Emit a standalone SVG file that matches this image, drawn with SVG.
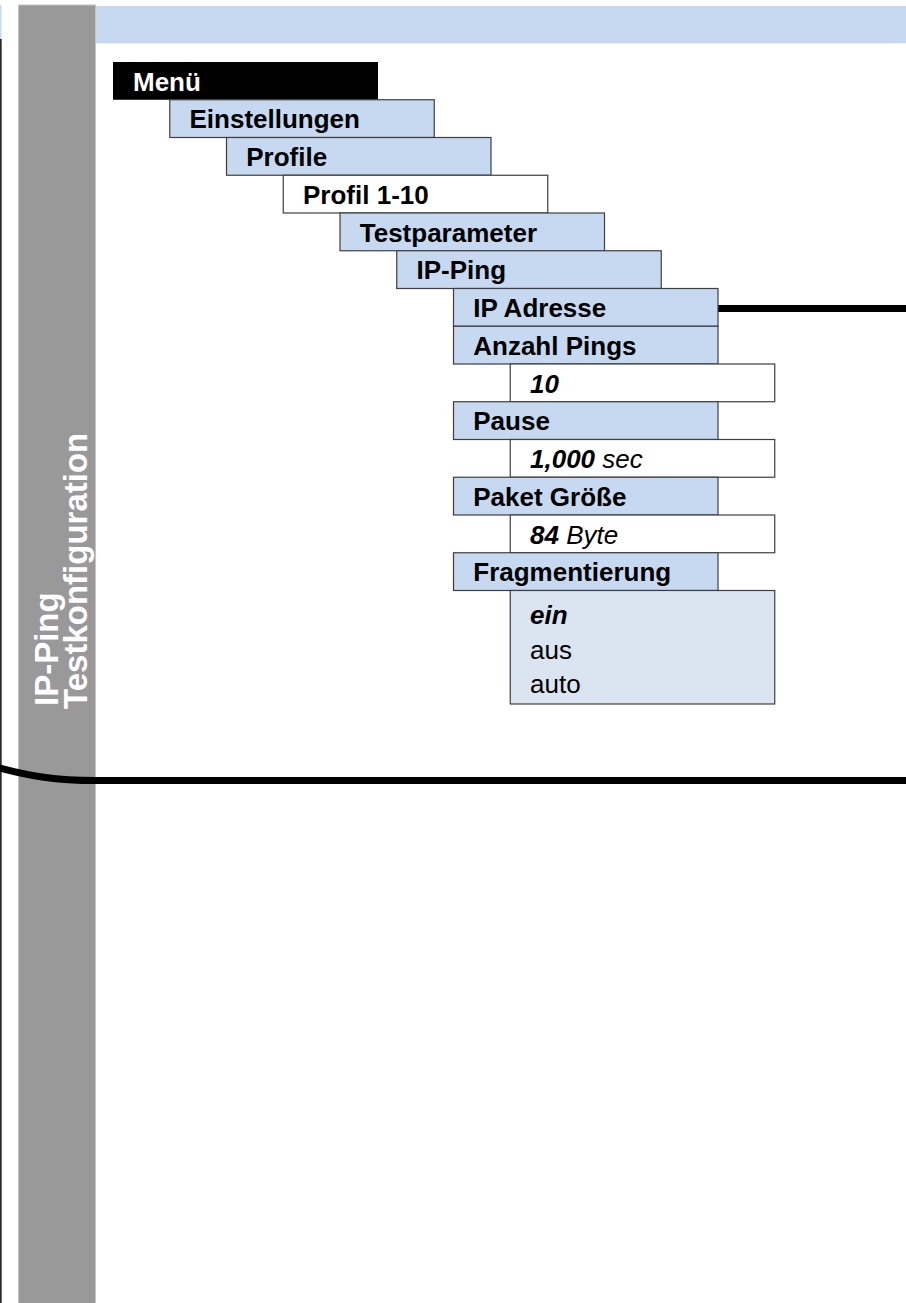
<svg xmlns="http://www.w3.org/2000/svg" width="906" height="1303" viewBox="0 0 906 1303">
  <style>
    .lbl { font-family: "Liberation Sans", Arial, sans-serif; font-size: 26px; font-weight: bold; fill: #000; }
    .val { font-family: "Liberation Sans", Arial, sans-serif; font-size: 26px; font-style: italic; fill: #000; }
    .opt { font-family: "Liberation Sans", Arial, sans-serif; font-size: 26px; fill: #000; }
    .b { font-weight: bold; }
    .menu { fill: #c6d9f1; stroke: #3f3f3f; stroke-width: 1.2; }
    .white { fill: #ffffff; stroke: #3f3f3f; stroke-width: 1.2; }
    .opts { fill: #dbe5f1; stroke: #3f3f3f; stroke-width: 1.2; }
    .side { font-family: "Liberation Sans", Arial, sans-serif; font-size: 33px; font-weight: bold; fill: #ffffff; }
    .conn { fill: none; stroke: #000; stroke-width: 7; }
  </style>

  <!-- page frame -->
  <rect x="0" y="5" width="1.5" height="34" fill="#c6d9f1"/>
  <rect x="0" y="39" width="1.7" height="1264" fill="#2b2b2b"/>
  <rect id="sidebar" x="18.5" y="5" width="77" height="1300" fill="#999999" stroke="#c4c4c4" stroke-width="1"/>
  <rect id="header" x="96" y="6" width="810" height="37.3" fill="#c6d9f1"/>

  <!-- side title -->
  <g id="title">
    <text class="side" transform="translate(58,706) rotate(-90)">IP-Ping</text>
    <text class="side" transform="translate(86.5,709) rotate(-90)">Testkonfiguration</text>
  </g>

  <!-- connectors -->
  <g id="connectors">
    <line class="conn" x1="718" y1="308.5" x2="906" y2="308.5"/>
    <path class="conn" d="M-2,767.5 C30,776 55,780.5 96,780.5 L906,780.5"/>
  </g>

  <!-- menu tree -->
  <g id="menu">
    <rect x="113" y="62" width="265" height="37.75" fill="#000"/>
    <text class="lbl" x="133" y="90.5" style="fill:#fff">Menü</text>
  </g>
  <g id="einstellungen">
    <rect class="menu" x="169.75" y="99.75" width="264.5" height="37.75"/>
    <text class="lbl" x="189.5" y="128.25">Einstellungen</text>
  </g>
  <g id="profile">
    <rect class="menu" x="226.5" y="137.5" width="264.5" height="37.75"/>
    <text class="lbl" x="246.25" y="166">Profile</text>
  </g>
  <g id="profil-1-10">
    <rect class="white" x="283.25" y="175.25" width="264.5" height="37.75"/>
    <text class="lbl" x="303" y="203.75">Profil 1-10</text>
  </g>
  <g id="testparameter">
    <rect class="menu" x="340" y="213" width="264.5" height="37.75"/>
    <text class="lbl" x="359.75" y="241.5">Testparameter</text>
  </g>
  <g id="ip-ping">
    <rect class="menu" x="396.75" y="250.75" width="264.5" height="37.75"/>
    <text class="lbl" x="416.5" y="279.25">IP-Ping</text>
  </g>
  <g id="ip-adresse">
    <rect class="menu" x="453.5" y="288.5" width="264.5" height="37.75"/>
    <text class="lbl" x="473.25" y="317">IP Adresse</text>
  </g>
  <g id="anzahl-pings">
    <rect class="menu" x="453.5" y="326.25" width="264.5" height="37.75"/>
    <text class="lbl" x="473.25" y="354.75">Anzahl Pings</text>
  </g>
  <g id="anzahl-wert">
    <rect class="white" x="510.25" y="364" width="264.5" height="37.75"/>
    <text class="val" x="530" y="392.5"><tspan class="b">10</tspan></text>
  </g>
  <g id="pause">
    <rect class="menu" x="453.5" y="401.75" width="264.5" height="37.75"/>
    <text class="lbl" x="473.25" y="430.25">Pause</text>
  </g>
  <g id="pause-wert">
    <rect class="white" x="510.25" y="439.5" width="264.5" height="37.75"/>
    <text class="val" x="530" y="468"><tspan class="b">1,000</tspan> sec</text>
  </g>
  <g id="paket-groesse">
    <rect class="menu" x="453.5" y="477.25" width="264.5" height="37.75"/>
    <text class="lbl" x="473.25" y="505.75">Paket Größe</text>
  </g>
  <g id="paket-wert">
    <rect class="white" x="510.25" y="515" width="264.5" height="37.75"/>
    <text class="val" x="530" y="543.5"><tspan class="b">84</tspan> Byte</text>
  </g>
  <g id="fragmentierung">
    <rect class="menu" x="453.5" y="552.75" width="264.5" height="37.75"/>
    <text class="lbl" x="473.25" y="581.25">Fragmentierung</text>
  </g>
  <g id="fragmentierung-optionen">
    <rect class="opts" x="510.25" y="590.5" width="264.5" height="113.5"/>
    <text class="val" x="530" y="623.5" style="font-weight:bold">ein</text>
    <text class="opt" x="530" y="658.5">aus</text>
    <text class="opt" x="530" y="693">auto</text>
  </g>
</svg>
